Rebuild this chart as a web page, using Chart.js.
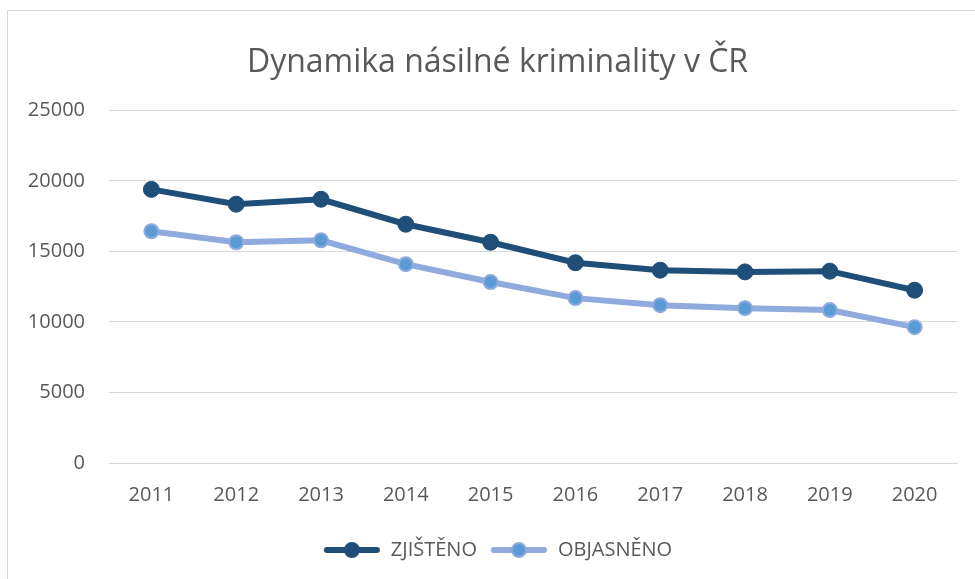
<!DOCTYPE html>
<html lang="cs">
<head>
<meta charset="utf-8">
<title>Dynamika násilné kriminality v ČR</title>
<script src="https://cdn.jsdelivr.net/npm/chart.js@4.4.0/dist/chart.umd.min.js"></script>
<style>
  html, body { margin: 0; padding: 0; background: #fff; overflow: hidden; }
  #frame { position: absolute; left: 7px; top: 10px; width: 990px; height: 590px; border: 1px solid #d9d9d9; }
  #wrap { position: absolute; left: 0; top: 0; width: 995px; height: 579px; }
</style>
</head>
<body>
<div id="frame"></div>
<div id="wrap"><canvas id="crimeChart"></canvas></div>
<script>
const years = ["2011", "2012", "2013", "2014", "2015", "2016", "2017", "2018", "2019", "2020"];
const zjisteno = [19400, 18350, 18700, 16930, 15650, 14200, 13670, 13550, 13600, 12250];
const objasneno = [16430, 15650, 15790, 14100, 12830, 11690, 11190, 10980, 10840, 9630];

const darkBlue = "#1f4e79";
const lightLine = "#8faadc";
const lightMarker = "#5b9bd5";
const textColor = "#595959";

// legend icon: short line with a marker in the middle
function makeIcon(lineColor, fill, border) {
  const c = document.createElement("canvas");
  c.width = 58;
  c.height = 20;
  const g = c.getContext("2d");
  g.strokeStyle = lineColor;
  g.lineWidth = 6;
  g.lineCap = "round";
  g.beginPath();
  g.moveTo(4, 10);
  g.lineTo(54, 10);
  g.stroke();
  g.beginPath();
  g.arc(29, 10, 7, 0, Math.PI * 2);
  g.fillStyle = fill;
  g.fill();
  g.lineWidth = 2;
  g.strokeStyle = border;
  g.stroke();
  return c;
}

document.addEventListener("DOMContentLoaded", function () {
  const ctx = document.getElementById("crimeChart");

  new Chart(ctx, {
    type: "line",
    data: {
      labels: years,
      datasets: [
        {
          label: "ZJIŠTĚNO",
          data: zjisteno,
          borderColor: darkBlue,
          backgroundColor: darkBlue,
          borderWidth: 6,
          pointRadius: 8,
          pointBorderWidth: 1,
          pointBackgroundColor: darkBlue,
          pointBorderColor: darkBlue,
          tension: 0,
        },
        {
          label: "OBJASNĚNO",
          data: objasneno,
          borderColor: lightLine,
          backgroundColor: lightMarker,
          borderWidth: 6,
          pointRadius: 7,
          pointBorderWidth: 2,
          pointBackgroundColor: lightMarker,
          pointBorderColor: lightLine,
          tension: 0,
        },
      ],
    },
    options: {
      responsive: true,
      maintainAspectRatio: false,
      animation: false,
      layout: {
        padding: { left: 0, right: 0, top: 0, bottom: 9 },
      },
      plugins: {
        title: {
          display: true,
          text: "Dynamika násilné kriminality v ČR",
          color: textColor,
          font: { family: "Open Sans", size: 32, weight: "normal" },
          padding: { top: 44, bottom: 28 },
        },
        legend: {
          position: "bottom",
          labels: {
            color: textColor,
            font: { family: "Open Sans", size: 20 },
            usePointStyle: true,
            pointStyleWidth: 58,
            padding: 13,
            generateLabels: function (chart) {
              const icons = [
                makeIcon(darkBlue, darkBlue, darkBlue),
                makeIcon(lightLine, lightMarker, lightLine),
              ];
              return chart.data.datasets.map(function (ds, i) {
                return {
                  text: ds.label,
                  pointStyle: icons[i],
                  fontColor: textColor,
                  datasetIndex: i,
                  hidden: false,
                  lineWidth: 0,
                };
              });
            },
          },
        },
        tooltip: { enabled: false },
      },
      scales: {
        x: {
          offset: true,
          grid: { display: false, drawTicks: false },
          border: { display: true, color: "#d9d9d9", width: 1 },
          ticks: {
            color: textColor,
            font: { family: "Open Sans", size: 20 },
            padding: 20,
          },
        },
        y: {
          min: 0,
          max: 25000,
          afterFit: function (scale) {
            scale.width = 109;
          },
          grid: { color: "#d9d9d9", lineWidth: 1, drawTicks: false },
          border: { display: false },
          ticks: {
            stepSize: 5000,
            color: textColor,
            font: { family: "Open Sans", size: 20 },
            padding: 24,
            callback: function (value) {
              return String(value);
            },
          },
        },
        // empty right-hand spacer so the plot ends where the reference's does
        spacer: {
          type: "linear",
          position: "right",
          min: 0,
          max: 25000,
          afterFit: function (scale) {
            scale.width = 38;
          },
          grid: { display: false, drawTicks: false },
          border: { display: false },
          ticks: { display: false },
        },
      },
    },
  });
});
</script>
</body>
</html>
